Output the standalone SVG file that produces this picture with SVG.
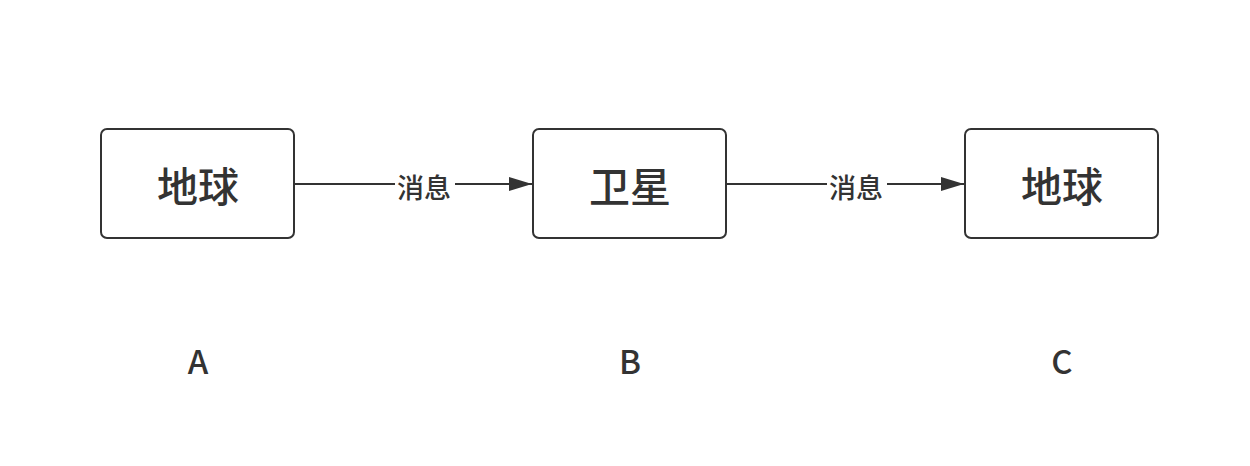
<svg xmlns="http://www.w3.org/2000/svg" width="1250" height="466" viewBox="0 0 1250 466">
<defs>
<style>
.box{fill:#fff;stroke:#333;stroke-width:2}
.t{font-family:"Noto Sans CJK SC","Noto Sans",sans-serif;fill:#333;text-anchor:middle;dominant-baseline:central}
.nt{font-size:41px;font-weight:500}
.el{font-size:27px;font-weight:500}
.lt{font-size:33px;font-weight:500}
.edge{stroke:#333;stroke-width:2;fill:none}
</style>
<marker id="arr" markerWidth="24" markerHeight="16" refX="23" refY="8" orient="auto" markerUnits="userSpaceOnUse">
<path d="M0,1 L23,8 L0,15 Z" fill="#333"/>
</marker>
</defs>
<rect width="1250" height="466" fill="#fff"/>
<g id="connectors">
<path class="edge" d="M295,184 L532,184" marker-end="url(#arr)" />
<rect x="395" y="170" width="60" height="30" fill="#fff"/>
<text class="t el" x="424" y="186">消息</text>
<path class="edge" d="M727,184 L964,184" marker-end="url(#arr)" />
<rect x="827" y="170" width="60" height="30" fill="#fff"/>
<text class="t el" x="856" y="186">消息</text>
</g>
<g id="nodeA">
<rect class="box" x="101" y="129" width="193" height="109" rx="6"/>
<text class="t nt" x="198" y="184">地球</text>
</g>
<g id="nodeB">
<rect class="box" x="533" y="129" width="193" height="109" rx="6"/>
<text class="t nt" x="630" y="184">卫星</text>
</g>
<g id="nodeC">
<rect class="box" x="965" y="129" width="193" height="109" rx="6"/>
<text class="t nt" x="1062" y="184">地球</text>
</g>
<g id="labels">
<text class="t lt" x="198" y="360">A</text>
<text class="t lt" x="630" y="360">B</text>
<text class="t lt" x="1062" y="360">C</text>
</g>
</svg>
